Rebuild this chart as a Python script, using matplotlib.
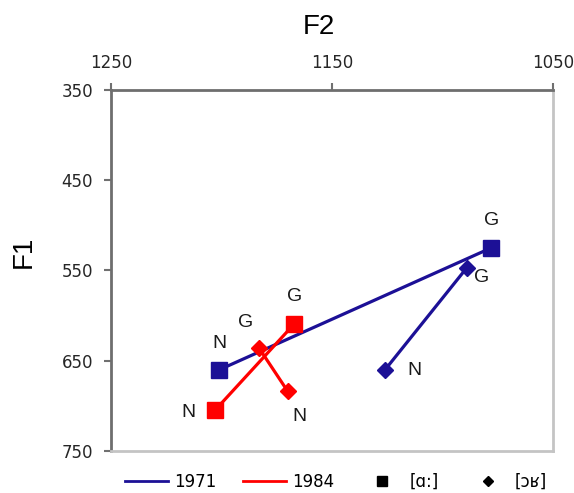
import matplotlib.pyplot as plt
from matplotlib.lines import Line2D

# formant values (Hz), N then G for each vowel / year
f2_a_1971 = [1201, 1078]
f1_a_1971 = [660, 525]
f2_a_1984 = [1203, 1167]
f1_a_1984 = [705, 609]
f2_or_1971 = [1126, 1089]
f1_or_1971 = [660, 547]
f2_or_1984 = [1170, 1183]
f1_or_1984 = [684, 636]
point_labels = ['N', 'G']

x_ticks = [1250, 1150, 1050]
y_ticks = [350, 450, 550, 650, 750]

blue = '#1c1096'
red = '#ff0000'

fig = plt.figure(figsize=(5.74, 4.93), dpi=100)
ax = fig.add_axes([0.1934, 0.0852, 0.7700, 0.7323])

ax.plot(f2_a_1971, f1_a_1971, color=blue, lw=2.3, marker='s', ms=11)
ax.plot(f2_a_1984, f1_a_1984, color=red, lw=2.3, marker='s', ms=11)
ax.plot(f2_or_1971, f1_or_1971, color=blue, lw=2.3, marker='D', ms=8)
ax.plot(f2_or_1984, f1_or_1984, color=red, lw=2.3, marker='D', ms=8)

# label offsets in pixels (dx right, dy down) for each point
offsets = [
    (f2_a_1971, f1_a_1971, [(0, -26), (1, -27)]),
    (f2_a_1984, f1_a_1984, [(-26, 2), (0, -27)]),
    (f2_or_1971, f1_or_1971, [(29, 1), (15, 10)]),
    (f2_or_1984, f1_or_1984, [(12, 25), (-13, -26)]),
]
for xs, ys, offs in offsets:
    for x, y, lab, (dx, dy) in zip(xs, ys, point_labels, offs):
        ax.annotate(lab, (x, y), xytext=(dx * 0.72, -dy * 0.72),
                    textcoords='offset points', ha='center', va='center',
                    fontsize=14, family='Liberation Sans', color='#1a1a1a')

ax.set_xlim(1250, 1050)
ax.set_ylim(750, 350)
ax.xaxis.tick_top()
ax.set_xticks(x_ticks)
ax.set_yticks(y_ticks)
ax.tick_params(axis='both', direction='out', length=5, width=1.5,
               color='#707070', labelsize=12, labelcolor='#262626')
ax.tick_params(axis='x', pad=8)
ax.tick_params(axis='y', pad=8)

for side in ['left', 'top']:
    ax.spines[side].set_color('#6e6e6e')
    ax.spines[side].set_linewidth(2)
for side in ['right', 'bottom']:
    ax.spines[side].set_color('#c4c4c4')
    ax.spines[side].set_linewidth(2)

fig.text(319 / 574, 1 - 27 / 493, 'F2', ha='center', va='center',
         fontsize=20, family='Liberation Sans')
fig.text(24 / 574, 1 - 252 / 493, 'F1', ha='center', va='center',
         rotation=90, fontsize=20, family='Liberation Sans')

handles = [
    Line2D([], [], color=blue, lw=2),
    Line2D([], [], color=red, lw=2),
    Line2D([], [], color='black', ls='none', marker='s', ms=7),
    Line2D([], [], color='black', ls='none', marker='D', ms=5),
]
fig.legend(handles, ['1971', '1984', '[ɑ:]', '[ɔʁ]'], ncol=4,
           loc='center', bbox_to_anchor=(336 / 574, 1 - 482 / 493),
           frameon=False, fontsize=12, handlelength=2.6,
           handletextpad=0.35, columnspacing=1.6)

fig.savefig('out.png', dpi=100)
